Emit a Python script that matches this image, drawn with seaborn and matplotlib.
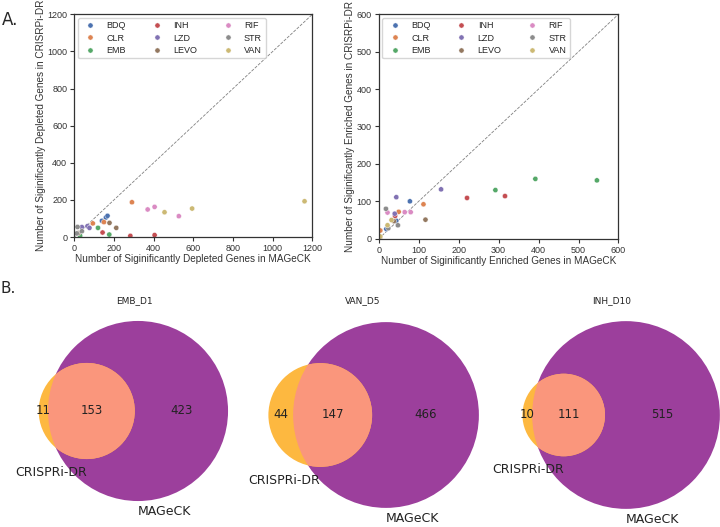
import numpy as np
import pandas as pd
import matplotlib.pyplot as plt
import seaborn as sns
from matplotlib.patches import Circle

drug_order = ['BDQ', 'CLR', 'EMB', 'INH', 'LZD', 'LEVO', 'RIF', 'STR', 'VAN']

# panel A, left: depleted genes (3 points per drug)
dep_drug = [d for d in drug_order for _ in range(3)]
dep_mageck = [140, 160, 168,   94, 150, 291,   30, 120, 177,
              143, 283, 405,   39, 67, 77,     178, 212, 22,
              370, 405, 527,   17, 13, 39,     455, 594, 1160]
dep_crispri = [88, 106, 115,   74, 81, 188,    7, 50, 14,
               25, 7, 11,      54, 59, 50,     77, 50, 22,
               149, 163, 113,  55, 20, 32,     134, 154, 193]

# panel A, right: enriched genes
enr_drug = [d for d in drug_order for _ in range(3)]
enr_mageck = [78, 19, 44,     112, 50, 4,     292, 392, 546,
              221, 316, 41,   44, 156, 40,    117, 38, 3,
              22, 65, 80,     18, 48, 24,     32, 22, 4]
enr_crispri = [100, 26, 48,   92, 72, 22,     130, 160, 156,
               109, 114, 61,  111, 132, 67,   51, 47, 3,
               70, 71, 71,    80, 36, 28,     50, 36, 6]

# panel B: venn counts
venn_titles = ['EMB_D1', 'VAN_D5', 'INH_D10']
only_crispri = [11, 44, 10]
both = [153, 147, 111]
only_mageck = [423, 466, 515]

dep_df = pd.DataFrame({'drug': dep_drug, 'mageck': dep_mageck, 'crispri': dep_crispri})
enr_df = pd.DataFrame({'drug': enr_drug, 'mageck': enr_mageck, 'crispri': enr_crispri})

sns.set_theme(style='ticks')
plt.rcParams['font.family'] = ['Liberation Sans', 'DejaVu Sans']

fig = plt.figure(figsize=(7.2, 5.27), dpi=100)


def scatter_panel(rect, df, lim, step, xlabel, ylabel):
    ax = fig.add_axes(rect)
    sns.scatterplot(data=df, x='mageck', y='crispri', hue='drug', hue_order=drug_order,
                    palette='deep', s=14, linewidth=0.3, edgecolor='white', ax=ax)
    ax.plot([0, lim], [0, lim], ls='--', lw=0.6, color='grey', zorder=0)
    ax.set_xlim(0, lim)
    ax.set_ylim(0, lim)
    ax.set_xticks(np.arange(0, lim + 1, step))
    ax.set_yticks(np.arange(0, lim + 1, step))
    ax.tick_params(labelsize=6.5, length=3, width=0.8, pad=2, colors='#333333')
    for sp in ax.spines.values():
        sp.set_linewidth(0.9)
        sp.set_color('#333333')
    ax.set_xlabel(xlabel, fontsize=7.2, labelpad=1, color='#333333')
    ax.set_ylabel(ylabel, fontsize=7.2, labelpad=1, color='#333333')
    sns.move_legend(ax, 'upper left', ncol=3, title=None, frameon=True, fontsize=6.5,
                    handlelength=2, handletextpad=0.8, columnspacing=2.4,
                    labelspacing=0.35, borderpad=0.4, borderaxespad=0.4)
    return ax


scatter_panel([0.103, 0.550, 0.331, 0.423], dep_df, 1200, 200,
              'Number of Siginificantly Depleted Genes in MAGeCK',
              'Number of Siginificantly Depleted Genes in CRISRPi-DR')
scatter_panel([0.526, 0.547, 0.333, 0.426], enr_df, 600, 100,
              'Number of Siginificantly Enriched Genes in MAGeCK',
              'Number of Siginificantly Enriched Genes in CRISRPi-DR')

fig.text(0.003, 0.962, 'A.', fontsize=12, va='center', family='DejaVu Sans')
fig.text(0.0, 0.452, 'B.', fontsize=11, va='center', family='DejaVu Sans')


def lens_area(r1, r2, d):
    if d >= r1 + r2:
        return 0.0
    if d <= abs(r1 - r2):
        return np.pi * min(r1, r2) ** 2
    a1 = r1 ** 2 * np.arccos((d * d + r1 * r1 - r2 * r2) / (2 * d * r1))
    a2 = r2 ** 2 * np.arccos((d * d + r2 * r2 - r1 * r1) / (2 * d * r2))
    k = 0.5 * np.sqrt((-d + r1 + r2) * (d + r1 - r2) * (d - r1 + r2) * (d + r1 + r2))
    return a1 + a2 - k


def center_dist(r1, r2, target):
    lo, hi = abs(r1 - r2), r1 + r2
    for _ in range(60):
        mid = (lo + hi) / 2
        if lens_area(r1, r2, mid) > target:
            lo = mid
        else:
            hi = mid
    return (lo + hi) / 2


# bottom panel in pixel-like units (y measured from top of figure)
axb = fig.add_axes([0, 0, 1, 247 / 527])
axb.set_xlim(0, 720)
axb.set_ylim(527, 280)
axb.axis('off')

scale = 6.65
venn_cx = [138, 386, 626]
venn_cy = [411, 415, 415]
title_x = [134, 363, 612]
col_a, col_b, col_ab = '#fdb840', '#9c3f9c', '#fa967c'

for i in range(3):
    ra = scale * np.sqrt((only_crispri[i] + both[i]) / np.pi)
    rb = scale * np.sqrt((only_mageck[i] + both[i]) / np.pi)
    d = scale * center_dist(ra / scale, rb / scale, both[i])
    cb = (venn_cx[i], venn_cy[i])
    ca = (venn_cx[i] - d, venn_cy[i])
    circ_b = Circle(cb, rb, color=col_b, lw=0)
    circ_a = Circle(ca, ra, color=col_a, lw=0)
    inter = Circle(ca, ra, color=col_ab, lw=0)
    axb.add_patch(circ_b)
    axb.add_patch(circ_a)
    axb.add_patch(inter)
    inter.set_clip_path(circ_b)

    ya = venn_cy[i]
    x_only_a = ((ca[0] - ra) + (cb[0] - rb)) / 2
    x_both = ((cb[0] - rb) + (ca[0] + ra)) / 2
    x_only_b = ((ca[0] + ra) + (cb[0] + rb)) / 2
    for xv, val in [(x_only_a, only_crispri[i]), (x_both, both[i]), (x_only_b, only_mageck[i])]:
        axb.text(xv, ya, str(val), ha='center', va='center', fontsize=8.5,
                 family='DejaVu Sans', color='#222222')
    axb.text(ca[0], ca[1] + ra + 0.05 * (ra + rb), 'CRISPRi-DR', ha='right', va='top',
             fontsize=9, family='DejaVu Sans', color='#222222')
    axb.text(cb[0], min(cb[1] + rb + 0.03 * (ra + rb), 513), 'MAGeCK', ha='left', va='top',
             fontsize=9, family='DejaVu Sans', color='#222222')
    axb.text(title_x[i], 301, venn_titles[i], ha='center', va='center', fontsize=6.5,
             family='DejaVu Sans', color='#222222')

fig.savefig('out.png', dpi=100)
